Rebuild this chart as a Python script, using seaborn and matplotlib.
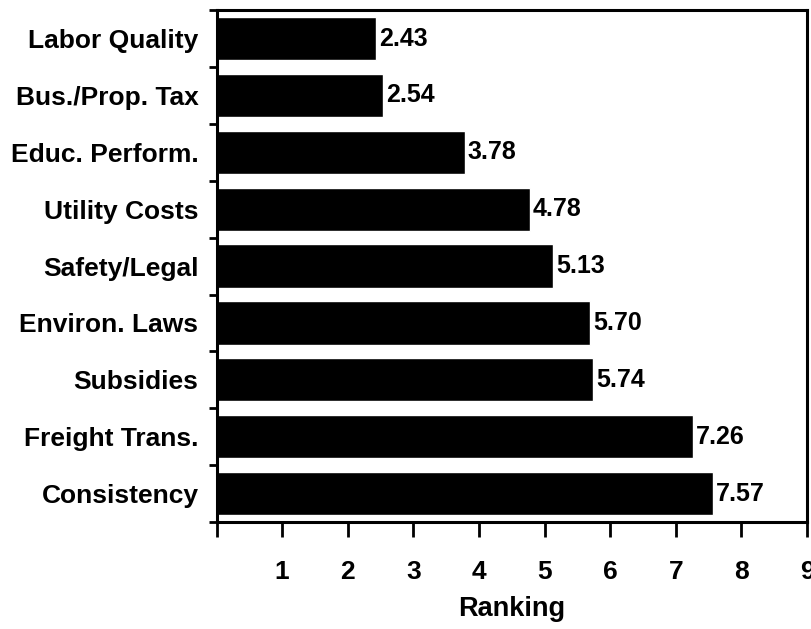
import matplotlib
matplotlib.use("Agg")
import matplotlib.pyplot as plt
from matplotlib.ticker import FixedLocator
import seaborn as sns
import pandas as pd

factors = ["Labor Quality", "Bus./Prop. Tax", "Educ. Perform.", "Utility Costs",
           "Safety/Legal", "Environ. Laws", "Subsidies", "Freight Trans.", "Consistency"]
rankings = [2.43, 2.54, 3.78, 4.78, 5.13, 5.70, 5.74, 7.26, 7.57]
x_ticks = [0, 1, 2, 3, 4, 5, 6, 7, 8, 9]
x_tick_labels = ["", "1", "2", "3", "4", "5", "6", "7", "8", "9"]

sns.set_theme(style="white")
plt.rcParams["font.family"] = ["Liberation Sans", "DejaVu Sans"]
plt.rcParams["font.weight"] = "bold"
plt.rcParams["text.color"] = "black"
plt.rcParams["xtick.color"] = "black"
plt.rcParams["ytick.color"] = "black"
plt.rcParams["axes.labelcolor"] = "black"

df = pd.DataFrame({"Factor": factors, "Ranking": rankings})

fig = plt.figure(figsize=(8.11, 6.29), dpi=100)
ax = fig.add_axes([0.267, 0.170, 0.728, 0.814])

sns.barplot(data=df, x="Ranking", y="Factor", orient="h", color="black",
            saturation=1, width=0.76, ax=ax)

ax.set_xlim(0, 9)
ax.set_ylim(len(factors) - 0.5, -0.5)

for spine in ax.spines.values():
    spine.set_visible(True)
    spine.set_color("black")
    spine.set_linewidth(2.2)

ax.set_xticks(x_ticks)
ax.set_xticklabels(x_tick_labels, fontsize=19, fontweight="bold")
ax.tick_params(axis="x", direction="out", length=11, width=2, color="black",
               pad=16, bottom=True)

# category boundaries get the y tick marks, labels stay centred on bars
ax.yaxis.set_minor_locator(FixedLocator([i - 0.5 for i in range(len(factors) + 1)]))
ax.tick_params(axis="y", which="major", length=0, pad=13, labelsize=19)
ax.tick_params(axis="y", which="minor", direction="out", length=6, width=2,
               color="black", left=True)
for lbl in ax.get_yticklabels():
    lbl.set_fontweight("bold")

ax.set_ylabel("")
ax.set_xlabel("Ranking", fontsize=19.5, fontweight="bold", labelpad=9)

ax.bar_label(ax.containers[0], fmt="%.2f", padding=2, fontsize=18,
             fontweight="bold", color="black")

fig.savefig("out.png", dpi=100)
